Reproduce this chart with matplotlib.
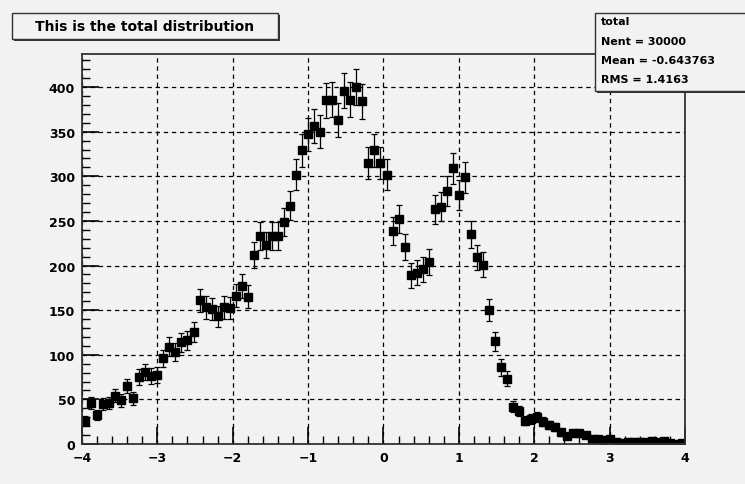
"""ROOT-style histogram: total distribution with error bars."""

import numpy as np
import matplotlib

matplotlib.use("Agg")
import matplotlib.pyplot as plt
from matplotlib.patches import Rectangle
from matplotlib.ticker import MultipleLocator

plt.rcParams["font.family"] = ["DejaVu Sans"]

# histogram: 100 bins from -4 to 4
x_min, x_max, n_bins = -4.0, 4.0, 100
counts = [
    26, 46, 32, 45, 46, 54, 49, 65, 51, 75,
    81, 76, 77, 96, 109, 103, 114, 116, 125, 161,
    153, 151, 143, 153, 152, 166, 177, 165, 212, 233,
    223, 233, 233, 249, 267, 302, 329, 347, 356, 350,
    385, 386, 363, 396, 386, 400, 384, 315, 329, 315,
    302, 239, 252, 221, 189, 192, 196, 204, 263, 266,
    284, 309, 279, 299, 235, 209, 201, 150, 115, 86,
    73, 42, 37, 26, 28, 30, 25, 21, 19, 13,
    9, 12, 12, 10, 6, 6, 5, 6, 2, 1,
    2, 2, 2, 2, 3, 2, 3, 1, 0, 1,
]
hist_title = "This is the total distribution"
stats_lines = ["total", "Nent = 30000", "Mean = -0.643763", "RMS = 1.4163"]

BG = "#f2f2f2"

edges = np.linspace(x_min, x_max, n_bins + 1)
centers = 0.5 * (edges[:-1] + edges[1:])
y = np.array(counts, dtype=float)
err = np.sqrt(y)

fig = plt.figure(figsize=(7.45, 4.85), dpi=100, facecolor=BG)
ax = fig.add_axes([0.110, 0.0825, 0.8095, 0.804], facecolor=BG)

ax.errorbar(centers, y, yerr=err, fmt="s", color="black", ms=5.3,
            elinewidth=0.9, capsize=2, capthick=0.9)

ax.set_xlim(x_min, x_max)
ax.set_ylim(0, 437)
ax.xaxis.set_major_locator(MultipleLocator(1))
ax.xaxis.set_minor_locator(MultipleLocator(0.2))
ax.yaxis.set_major_locator(MultipleLocator(50))
ax.yaxis.set_minor_locator(MultipleLocator(10))
ax.tick_params(which="major", direction="in", length=12, width=1.2,
               labelsize=9, pad=5)
ax.tick_params(which="minor", direction="in", length=6, width=1.0)
for lbl in ax.get_xticklabels() + ax.get_yticklabels():
    lbl.set_fontweight("bold")
ax.grid(True, which="major", color="black", linestyle=(0, (3.5, 3)), lw=0.9)
for s in ax.spines.values():
    s.set_linewidth(1.3)
    s.set_color("#333333")

# title box with shadow
fig.add_artist(Rectangle((14 / 745, 1 - 42 / 485), 266 / 745, 26 / 485,
                         transform=fig.transFigure, fc="#333333", ec="none"))
fig.add_artist(Rectangle((12 / 745, 1 - 40 / 485), 266 / 745, 26 / 485,
                         transform=fig.transFigure, fc=BG, ec="#333333", lw=1))
fig.text(145 / 745, 1 - 27 / 485, hist_title, ha="center", va="center",
         fontsize=10, fontweight="bold")

# stats box with shadow
fig.add_artist(Rectangle((597 / 745, 1 - 94 / 485), 160 / 745, 78 / 485,
                         transform=fig.transFigure, fc="#333333", ec="none"))
fig.add_artist(Rectangle((595 / 745, 1 - 92 / 485), 160 / 745, 78 / 485,
                         transform=fig.transFigure, fc=BG, ec="#333333", lw=1))
fig.text(601 / 745, 1 - 22 / 485, stats_lines[0], ha="left", va="center",
         fontsize=8, fontweight="bold")
for i, line in enumerate(stats_lines[1:]):
    fig.text(601 / 745, 1 - (42 + 19 * i) / 485, line, ha="left", va="center",
             fontsize=8, fontweight="bold")

fig.savefig("out.png", dpi=100, facecolor=BG)
